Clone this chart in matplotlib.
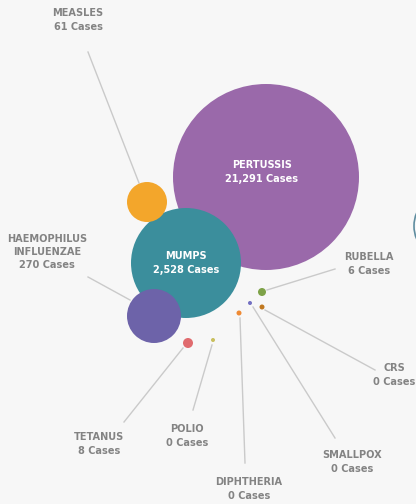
import matplotlib
matplotlib.use("Agg")
import matplotlib.pyplot as plt
from matplotlib.patches import Circle

# Dados
doencas = ["PERTUSSIS", "MUMPS", "HAEMOPHILUS\nINFLUENZAE", "MEASLES", "TETANUS",
           "RUBELLA", "POLIO", "DIPHTHERIA", "SMALLPOX", "CRS"]
casos = [21291, 2528, 270, 61, 8, 6, 0, 0, 0, 0]

# Layout (pixels)
centros = [(266, 177), (186, 263), (154, 316), (147, 202), (188, 343),
           (262, 292), (213, 340), (239, 313), (250, 303), (262, 307)]
raios = [93, 55, 27, 20, 5, 4, 2, 2.5, 2, 2.5]
cores = ["#9a69aa", "#3b8e9c", "#6d63a9", "#f3a62b", "#e06b6e",
         "#7ea248", "#c9bf5e", "#ef8a34", "#7370c2", "#c0781f"]
# rotulos: posicao do texto e linha guia (inicio, fim)
rotulos_pos = [(262, 172), (186, 263), (47, 252), (78, 20), (99, 444),
               (369, 264), (187, 436), (249, 489), (352, 462), (394, 375)]
linhas = [None, None, ((130, 300), (88, 277)), ((139, 183), (88, 52)),
          ((183, 348), (124, 422)), ((267, 290), (335, 269)),
          ((212, 345), (193, 410)), ((240, 318), (245, 463)),
          ((253, 307), (335, 438)), ((265, 310), (375, 370))]

fonte = ["DejaVu Sans", "Liberation Sans"]

fig = plt.figure(figsize=(4.16, 5.04), dpi=100)
fig.patch.set_facecolor("#f7f7f7")
ax = fig.add_axes([0, 0, 1, 1])
ax.set_xlim(0, 416)
ax.set_ylim(504, 0)
ax.set_aspect("auto")
ax.axis("off")

# borda de outro circulo cortado na direita
ax.add_patch(Circle((448, 226), 34, facecolor="none", edgecolor="#5f8da0", lw=1.2))

for c, lin in zip(centros, linhas):
    if lin is not None:
        (x0, y0), (x1, y1) = lin
        ax.plot([x0, x1], [y0, y1], color="#cacaca", lw=1, zorder=1)

for nome, n, c, r, cor, pos in zip(doencas, casos, centros, raios, cores, rotulos_pos):
    ax.add_patch(Circle(c, r, facecolor=cor, edgecolor="none", zorder=2))
    texto = f"{nome}\n{n:,} Cases"
    cor_txt = "white" if r > 40 else "#838383"
    ax.text(pos[0], pos[1], texto, ha="center", va="center", color=cor_txt,
            fontsize=7.8, fontweight="bold", fontstretch="condensed", family=fonte,
            linespacing=1.4, zorder=3)

fig.savefig("out.png", dpi=100, facecolor=fig.get_facecolor())
